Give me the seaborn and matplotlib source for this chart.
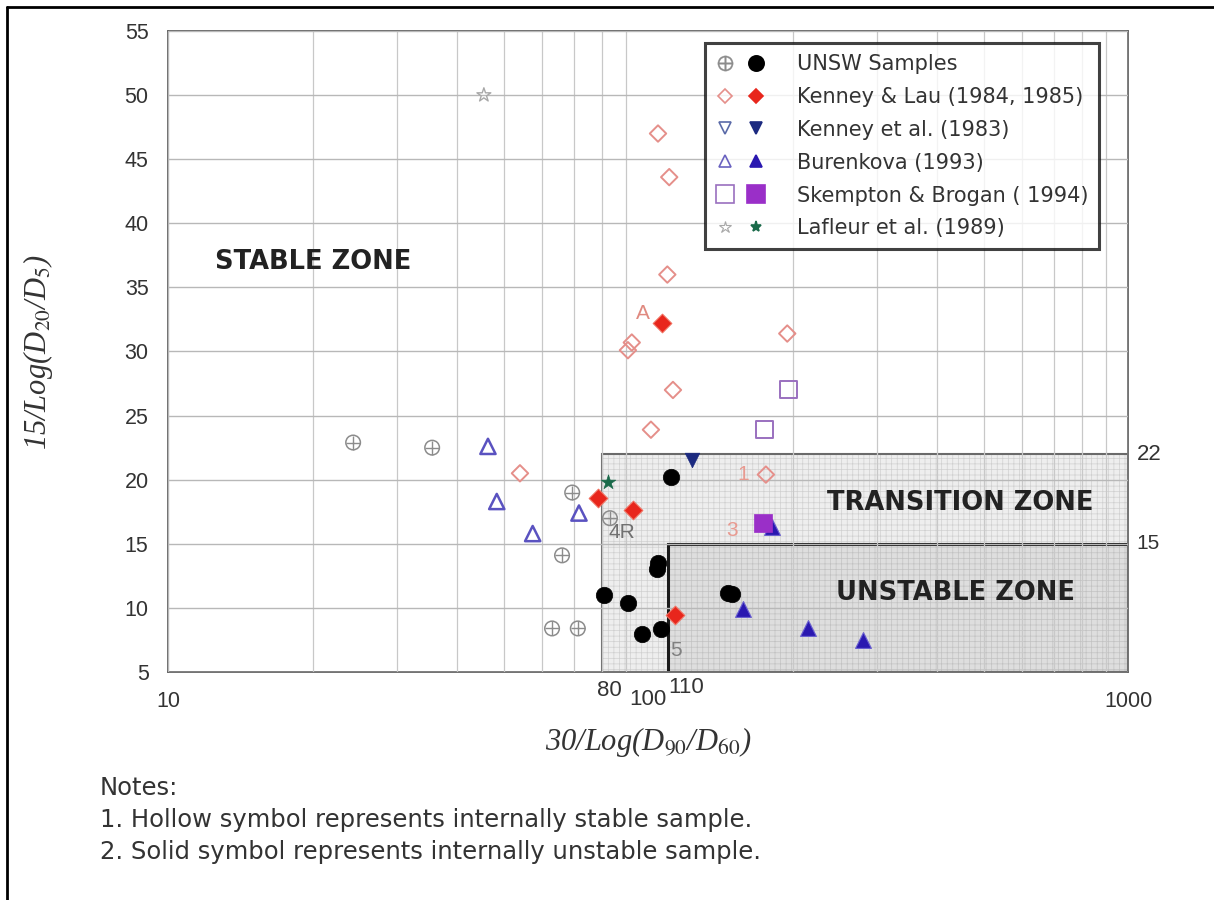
import numpy as np
import pandas as pd
import seaborn as sns
import matplotlib.pyplot as plt
from matplotlib.patches import Rectangle
from matplotlib.lines import Line2D
from matplotlib.legend_handler import HandlerTuple

# ---------------- data ----------------
unsw_hollow_x = [24.3, 35.5, 69.5, 66.2, 63.1, 71.4, 83.3]
unsw_hollow_y = [22.9, 22.5, 19.0, 14.1, 8.4, 8.4, 17.0]
unsw_solid_x = [111.7, 104.5, 105.0, 81.0, 90.8, 97.2, 106.4, 146.8, 149.6]
unsw_solid_y = [20.2, 13.0, 13.5, 11.0, 10.4, 8.0, 8.35, 11.15, 11.05]

kl_hollow_x = [104.9, 110.7, 109.7, 90.8, 92.5, 195.0, 112.7, 101.4, 54.1, 176.0]
kl_hollow_y = [47.0, 43.6, 36.0, 30.1, 30.7, 31.4, 27.0, 23.9, 20.5, 20.4]
kl_solid_x = [107.0, 78.7, 93.0, 113.8]
kl_solid_y = [32.2, 18.6, 17.6, 9.45]

ke_hollow_x = []
ke_hollow_y = []
ke_solid_x = [123.5]
ke_solid_y = [21.5]

bu_hollow_x = [46.4, 48.4, 71.8, 57.5]
bu_hollow_y = [22.6, 18.3, 17.4, 15.8]
bu_solid_x = [157.8, 215.0, 280.6, 181.0]
bu_solid_y = [9.9, 8.4, 7.5, 16.3]

sb_hollow_x = [196.6, 174.6]
sb_hollow_y = [27.0, 23.9]
sb_solid_x = [173.8]
sb_solid_y = [16.6]

lf_hollow_x = [45.5]
lf_hollow_y = [50.0]
lf_solid_x = [82.6]
lf_solid_y = [19.8]

series_names = ["UNSW Samples", "Kenney & Lau (1984, 1985)", "Kenney et al. (1983)",
                "Burenkova (1993)", "Skempton & Brogan ( 1994)", "Lafleur et al. (1989)"]

sample_labels = ["A", "1", "3", "4R", "5"]
sample_label_x = [97.5, 158.0, 150.0, 88.0, 114.5]
sample_label_y = [33.0, 20.4, 16.0, 15.9, 6.7]

x_ticks = [10, 1000]
x_special = [80, 100, 110]
y_ticks = [5, 10, 15, 20, 25, 30, 35, 40, 45, 50, 55]

# ---------------- style ----------------
sns.set_theme(style="white")
plt.rcParams['font.family'] = ['Liberation Sans', 'DejaVu Sans']
plt.rcParams['mathtext.fontset'] = 'stix'
plt.rcParams['mathtext.default'] = 'it'
plt.rcParams['hatch.linewidth'] = 0.5

fig = plt.figure(figsize=(12.14, 9), dpi=100)
ax = fig.add_axes([0.1384, 0.2533, 0.7908, 0.7123])
ax.set_xscale('log')
ax.set_xlim(10, 1000)
ax.set_ylim(5, 55)

# grid
ax.set_axisbelow(False)
ax.grid(True, which='major', axis='both', color='#b8b8b8', lw=1.0, zorder=1.5)
ax.grid(True, which='minor', axis='x', color='#c8c8c8', lw=0.9, zorder=1.5)

# zones
ax.add_patch(Rectangle((80, 5), 920, 17, facecolor='#eeeeee', edgecolor='#d0d0d0',
                       hatch='+++', lw=0, zorder=0.5))
ax.add_patch(Rectangle((110, 5), 890, 10, facecolor='#dedede', edgecolor='#c2c2c2',
                       hatch='+++', lw=0, zorder=0.6))
ax.add_patch(Rectangle((80, 5), 920, 17, fill=False, edgecolor='#6a6a6a', lw=1.5, zorder=2))
ax.add_patch(Rectangle((110, 5), 890, 10, fill=False, edgecolor='#1a1a1a', lw=2.2, zorder=2))


def sc(x, y, marker, s, face, edge, lw=1.2, z=4):
    if len(x) == 0:
        return
    df = pd.DataFrame({'x': x, 'y': y})
    sns.scatterplot(data=df, x='x', y='y', ax=ax, marker=marker, s=s,
                    facecolors=face, edgecolor=edge, linewidth=lw, zorder=z, legend=False)


gray = '#8c8c8c'
# UNSW hollow: crossed circle
sc(unsw_hollow_x, unsw_hollow_y, 'o', 110, 'none', gray, 1.1)
sns.scatterplot(x=unsw_hollow_x, y=unsw_hollow_y, ax=ax, marker='+', s=110, color=gray,
                linewidth=1.0, zorder=4, legend=False)
sc(kl_hollow_x, kl_hollow_y, 'D', 70, 'none', '#e58f8a', 1.4)
sc(bu_hollow_x, bu_hollow_y, '^', 120, 'none', '#5a52c0', 1.8)
sc(sb_hollow_x, sb_hollow_y, 's', 150, 'none', '#9a70bf', 1.4)
sc(lf_hollow_x, lf_hollow_y, '*', 110, 'none', '#a8a8a8', 1.0)

sc(unsw_solid_x, unsw_solid_y, 'o', 140, 'black', 'black', 0.5, 5)
sc(kl_solid_x, kl_solid_y, 'D', 90, '#e8261c', '#f07060', 0.8, 5)
sc(ke_solid_x, ke_solid_y, 'v', 110, '#1c2a80', '#1c2a80', 0.5, 5)
sc(bu_solid_x, bu_solid_y, '^', 130, '#2a18b0', '#6a60d0', 0.8, 5)
sc(sb_solid_x, sb_solid_y, 's', 150, '#9a2fc8', '#9a2fc8', 0.5, 5)
sc(lf_solid_x, lf_solid_y, '*', 120, '#1a6a4a', '#1a6a4a', 0.5, 5)

# sample labels
lab_colors = ['#e08a80', '#e89a90', '#e89a90', '#707070', '#808080']
for t, lx, ly, c in zip(sample_labels, sample_label_x, sample_label_y, lab_colors):
    ax.text(lx, ly, t, color=c, fontsize=15, ha='center', va='center', zorder=4.5)

# zone labels
zkw = dict(fontsize=18.5, fontweight='bold', color='#222222', zorder=6, family='DejaVu Sans')
ax.text(12.5, 37.0, 'STABLE ZONE', ha='left', va='center', **zkw)
ax.text(447, 18.2, 'TRANSITION ZONE', ha='center', va='center', **zkw)
ax.text(438, 11.2, 'UNSTABLE ZONE', ha='center', va='center', **zkw)
ax.text(1045, 22, '22', ha='left', va='center', fontsize=16, color='#333333', clip_on=False)
ax.text(1040, 15, '15', ha='left', va='center', fontsize=15, color='#333333', clip_on=False)

# ticks
ax.set_xticks(x_ticks)
ax.set_xticklabels([str(v) for v in x_ticks])
ax.xaxis.set_minor_formatter(plt.NullFormatter())
ax.set_yticks(y_ticks)
ax.tick_params(axis='both', which='major', labelsize=15.5, colors='#333333', length=3, pad=11)
ax.tick_params(axis='x', which='minor', length=0)
for v, dx, dy in zip(x_special, [6, 0, 13], [-13, -20, -11]):
    ax.annotate(str(v), xy=(v, 0), xycoords=('data', 'axes fraction'),
                xytext=(dx, dy), textcoords='offset points',
                ha='center', va='center', fontsize=16, color='#333333')

for sp in ax.spines.values():
    sp.set_color('#666666')
    sp.set_linewidth(1.3)

lab_kw = dict(fontsize=22, color='#333333', family='Liberation Serif', style='italic')
ax.set_xlabel(r'30/Log(D$_{90}$/D$_{60}$)', labelpad=9, **lab_kw)
ax.set_ylabel(r'15/Log(D$_{20}$/D$_{5}$)', labelpad=50, **lab_kw)

# legend
def mk(marker, face, edge, ms, mew=1.2):
    return Line2D([], [], ls='none', marker=marker, markerfacecolor=face,
                  markeredgecolor=edge, markersize=ms, markeredgewidth=mew)

handles = [
    (mk('$\\oplus$', gray, gray, 11, 0.3), mk('o', 'black', 'black', 11)),
    (mk('D', 'none', '#e58f8a', 7), mk('D', '#e8261c', '#e8261c', 7)),
    (mk('v', 'none', '#5a6aa8', 8), mk('v', '#1c2a80', '#1c2a80', 9)),
    (mk('^', 'none', '#6a62c0', 8), mk('^', '#2a18b0', '#2a18b0', 9)),
    (mk('s', 'none', '#9a70bf', 13), mk('s', '#9a2fc8', '#9a2fc8', 13)),
    (mk('*', 'none', '#a8a8a8', 9, 0.8), mk('*', '#1a6a4a', '#1a6a4a', 8)),
]
leg = ax.legend(handles, series_names, handler_map={tuple: HandlerTuple(ndivide=None, pad=0.5)},
                loc='upper left', bbox_to_anchor=(0.5595, 0.9805),
                prop={'family': 'DejaVu Sans', 'size': 15},
                frameon=True, fancybox=False, handlelength=2.4, handletextpad=1.5,
                labelspacing=0.62, borderpad=0.5, borderaxespad=0)
leg.get_frame().set_edgecolor('#111111')
leg.get_frame().set_linewidth(2.2)
leg.set_zorder(10)
for t in leg.get_texts():
    t.set_color('#333333')

# notes
nkw = dict(fontsize=17.5, color='#333333', va='center', family='DejaVu Sans')
fig.text(100 / 1214, 1 - 788 / 900, 'Notes:', **nkw)
fig.text(100 / 1214, 1 - 820 / 900, '1. Hollow symbol represents internally stable sample.', **nkw)
fig.text(100 / 1214, 1 - 852 / 900, '2. Solid symbol represents internally unstable sample.', **nkw)

# figure border (top & left)
fig.add_artist(Line2D([0.006, 0.006], [0.0, 0.992], color='black', lw=2, transform=fig.transFigure))
fig.add_artist(Line2D([0.006, 1.0], [0.992, 0.992], color='black', lw=2, transform=fig.transFigure))

fig.savefig('out.png', dpi=100)
